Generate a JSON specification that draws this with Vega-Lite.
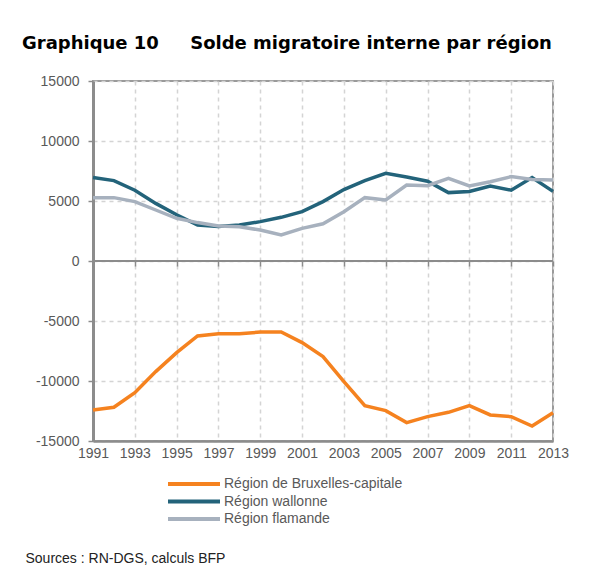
{
  "$schema": "https://vega.github.io/schema/vega-lite/v6.json",
  "width": 460,
  "height": 360,
  "autosize": {"type": "none"},
  "padding": {"left": 93, "top": 81, "right": 44, "bottom": 139},
  "background": "white",
  "title": {
    "text": "Graphique 10\u00a0\u00a0\u00a0\u00a0\u00a0Solde migratoire interne par région",
    "anchor": "start",
    "frame": "group",
    "dx": -71,
    "offset": 7,
    "baseline": "alphabetic",
    "font": "DejaVu Sans",
    "fontSize": 18,
    "fontWeight": "bold",
    "color": "#000000"
  },
  "config": {
    "view": {"stroke": "#9a9a9a", "strokeWidth": 2},
    "font": "Liberation Sans"
  },
  "resolve": {"axis": {"x": "independent"}},
  "layer": [
    {
      "data": {
        "values": [
          {"region": "Région de Bruxelles-capitale", "year": 1991, "value": -12420},
          {"region": "Région de Bruxelles-capitale", "year": 1992, "value": -12190},
          {"region": "Région de Bruxelles-capitale", "year": 1993, "value": -10970},
          {"region": "Région de Bruxelles-capitale", "year": 1994, "value": -9220},
          {"region": "Région de Bruxelles-capitale", "year": 1995, "value": -7640},
          {"region": "Région de Bruxelles-capitale", "year": 1996, "value": -6250},
          {"region": "Région de Bruxelles-capitale", "year": 1997, "value": -6060},
          {"region": "Région de Bruxelles-capitale", "year": 1998, "value": -6060},
          {"region": "Région de Bruxelles-capitale", "year": 1999, "value": -5920},
          {"region": "Région de Bruxelles-capitale", "year": 2000, "value": -5920},
          {"region": "Région de Bruxelles-capitale", "year": 2001, "value": -6800},
          {"region": "Région de Bruxelles-capitale", "year": 2002, "value": -7970},
          {"region": "Région de Bruxelles-capitale", "year": 2003, "value": -10050},
          {"region": "Région de Bruxelles-capitale", "year": 2004, "value": -12050},
          {"region": "Région de Bruxelles-capitale", "year": 2005, "value": -12470},
          {"region": "Région de Bruxelles-capitale", "year": 2006, "value": -13470},
          {"region": "Région de Bruxelles-capitale", "year": 2007, "value": -12970},
          {"region": "Région de Bruxelles-capitale", "year": 2008, "value": -12610},
          {"region": "Région de Bruxelles-capitale", "year": 2009, "value": -12050},
          {"region": "Région de Bruxelles-capitale", "year": 2010, "value": -12830},
          {"region": "Région de Bruxelles-capitale", "year": 2011, "value": -12970},
          {"region": "Région de Bruxelles-capitale", "year": 2012, "value": -13750},
          {"region": "Région de Bruxelles-capitale", "year": 2013, "value": -12640},
          {"region": "Région wallonne", "year": 1991, "value": 6950},
          {"region": "Région wallonne", "year": 1992, "value": 6700},
          {"region": "Région wallonne", "year": 1993, "value": 5900},
          {"region": "Région wallonne", "year": 1994, "value": 4800},
          {"region": "Région wallonne", "year": 1995, "value": 3850},
          {"region": "Région wallonne", "year": 1996, "value": 3000},
          {"region": "Région wallonne", "year": 1997, "value": 2880},
          {"region": "Région wallonne", "year": 1998, "value": 3000},
          {"region": "Région wallonne", "year": 1999, "value": 3280},
          {"region": "Région wallonne", "year": 2000, "value": 3640},
          {"region": "Région wallonne", "year": 2001, "value": 4110},
          {"region": "Région wallonne", "year": 2002, "value": 4950},
          {"region": "Région wallonne", "year": 2003, "value": 5950},
          {"region": "Région wallonne", "year": 2004, "value": 6700},
          {"region": "Région wallonne", "year": 2005, "value": 7300},
          {"region": "Région wallonne", "year": 2006, "value": 7000},
          {"region": "Région wallonne", "year": 2007, "value": 6650},
          {"region": "Région wallonne", "year": 2008, "value": 5700},
          {"region": "Région wallonne", "year": 2009, "value": 5800},
          {"region": "Région wallonne", "year": 2010, "value": 6250},
          {"region": "Région wallonne", "year": 2011, "value": 5900},
          {"region": "Région wallonne", "year": 2012, "value": 6950},
          {"region": "Région wallonne", "year": 2013, "value": 5800},
          {"region": "Région flamande", "year": 1991, "value": 5280},
          {"region": "Région flamande", "year": 1992, "value": 5280},
          {"region": "Région flamande", "year": 1993, "value": 4950},
          {"region": "Région flamande", "year": 1994, "value": 4250},
          {"region": "Région flamande", "year": 1995, "value": 3560},
          {"region": "Région flamande", "year": 1996, "value": 3200},
          {"region": "Région flamande", "year": 1997, "value": 2920},
          {"region": "Région flamande", "year": 1998, "value": 2860},
          {"region": "Région flamande", "year": 1999, "value": 2580},
          {"region": "Région flamande", "year": 2000, "value": 2170},
          {"region": "Région flamande", "year": 2001, "value": 2720},
          {"region": "Région flamande", "year": 2002, "value": 3100},
          {"region": "Région flamande", "year": 2003, "value": 4100},
          {"region": "Région flamande", "year": 2004, "value": 5280},
          {"region": "Région flamande", "year": 2005, "value": 5080},
          {"region": "Région flamande", "year": 2006, "value": 6330},
          {"region": "Région flamande", "year": 2007, "value": 6280},
          {"region": "Région flamande", "year": 2008, "value": 6890},
          {"region": "Région flamande", "year": 2009, "value": 6250},
          {"region": "Région flamande", "year": 2010, "value": 6600},
          {"region": "Région flamande", "year": 2011, "value": 7030},
          {"region": "Région flamande", "year": 2012, "value": 6800},
          {"region": "Région flamande", "year": 2013, "value": 6750}
        ]
      },
      "mark": {"type": "line", "strokeWidth": 3.5},
      "encoding": {
        "x": {
          "field": "year",
          "type": "quantitative",
          "scale": {"domain": [1991, 2013], "nice": false, "zero": false},
          "axis": {
            "orient": "bottom",
            "values": [1991, 1993, 1995, 1997, 1999, 2001, 2003, 2005, 2007, 2009, 2011, 2013],
            "format": "d",
            "labelFont": "Liberation Sans",
            "labelFontSize": 14,
            "labelColor": "#595959",
            "labelPadding": 5,
            "labelFlush": false,
            "labelOverlap": false,
            "ticks": false,
            "domain": true,
            "domainColor": "#8c8c8c",
            "domainWidth": 2.5,
            "grid": true,
            "gridColor": "#d4d4d4",
            "gridWidth": 1.5,
            "gridDash": [4, 4],
            "title": "Sources : RN-DGS, calculs BFP",
            "titleX": -68,
            "titleY": 121,
            "titleAlign": "left",
            "titleAnchor": "start",
            "titleBaseline": "alphabetic",
            "titleFont": "Liberation Sans",
            "titleFontSize": 14,
            "titleFontWeight": "normal",
            "titleColor": "#222222"
          }
        },
        "y": {
          "field": "value",
          "type": "quantitative",
          "scale": {"domain": [-15000, 15000], "nice": false},
          "axis": {
            "values": [-15000, -10000, -5000, 0, 5000, 10000, 15000],
            "labelExpr": "datum.value < 0 ? '-' + abs(datum.value) : '' + datum.value",
            "labelFont": "Liberation Sans",
            "labelFontSize": 14,
            "labelColor": "#595959",
            "labelPadding": 9,
            "domainColor": "#8c8c8c",
            "domainWidth": 3,
            "tickColor": "#8c8c8c",
            "tickSize": 5,
            "tickWidth": 1.5,
            "grid": true,
            "gridColor": "#d4d4d4",
            "gridWidth": 1.5,
            "gridDash": [4, 4],
            "title": null
          }
        },
        "color": {
          "field": "region",
          "type": "nominal",
          "scale": {
            "domain": ["Région de Bruxelles-capitale", "Région wallonne", "Région flamande"],
            "range": ["#F5821F", "#23637A", "#A7B1BE"]
          },
          "legend": {
            "orient": "none",
            "legendX": 94,
            "legendY": 396,
            "title": null,
            "symbolType": "M-5.2,0H5.2",
            "symbolSize": 100,
            "symbolStrokeWidth": 4,
            "labelOffset": 23,
            "labelLimit": 400,
            "labelFont": "Liberation Sans",
            "labelFontSize": 14,
            "labelColor": "#595959",
            "rowPadding": 1.5
          }
        }
      }
    },
    {
      "data": {"values": [{"value": 0}]},
      "mark": {"type": "rule", "color": "#8c8c8c", "strokeWidth": 2},
      "encoding": {
        "x": {
          "datum": 1991,
          "type": "quantitative",
          "axis": {
            "orient": "bottom",
            "offset": -180,
            "values": [1991, 1993, 1995, 1997, 1999, 2001, 2003, 2005, 2007, 2009, 2011, 2013],
            "labels": false,
            "domain": false,
            "ticks": true,
            "tickSize": 5,
            "tickWidth": 1.5,
            "tickColor": "#8c8c8c",
            "grid": false,
            "title": null
          }
        },
        "x2": {"datum": 2013},
        "y": {"field": "value", "type": "quantitative", "axis": {"title": null}}
      }
    }
  ]
}
